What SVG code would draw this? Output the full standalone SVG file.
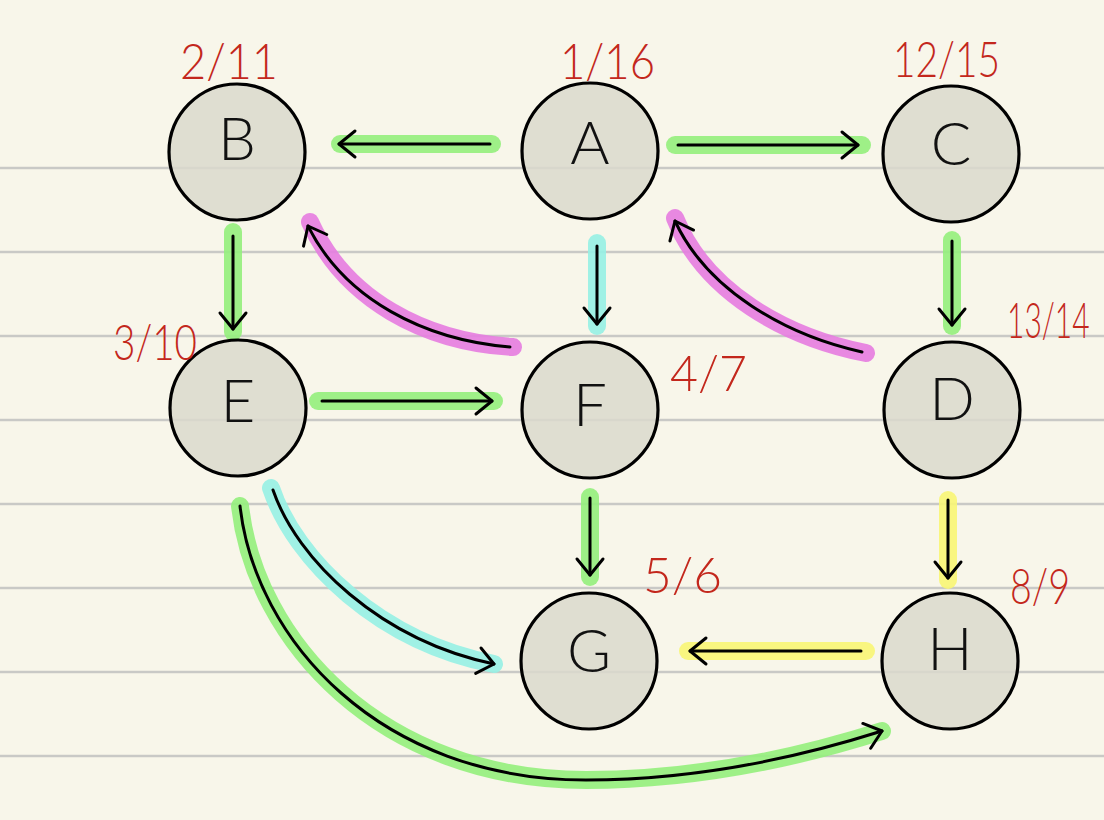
<svg xmlns="http://www.w3.org/2000/svg" width="1104" height="820" viewBox="0 0 1104 820">
<style>
.rule{stroke:#c9c9c6;stroke-width:2.5}
.node circle{fill:#dbd9cc;fill-opacity:0.85;stroke:#000;stroke-width:3.2}
.node text{font-family:Lato,'Open Sans','DejaVu Sans',sans-serif;font-weight:300;font-size:60px;fill:#111;text-anchor:middle}
.lbl{font-family:Lato,'Open Sans','DejaVu Sans',sans-serif;font-weight:300;font-size:50px;fill:#c3271c}
.hl{fill:none;stroke-width:18;stroke-linecap:round;stroke-opacity:0.9}
.g{stroke:#93f07c}
.c{stroke:#96f1e4}
.m{stroke:#e57ce0}
.y{stroke:#f8f674}
.ln{fill:none;stroke:#000;stroke-width:3;stroke-linecap:round;marker-end:url(#ah)}
</style>
<defs>
<marker id="ah" markerUnits="userSpaceOnUse" markerWidth="40" markerHeight="40" viewBox="-20 -20 40 40" refX="0" refY="0" orient="auto">
<path d="M-16,-13 L0,0 L-16,13" fill="none" stroke="#000" stroke-width="3" stroke-linecap="round" stroke-linejoin="round"/>
</marker>
</defs>
<rect width="1104" height="820" fill="#f8f6ea"/>
<g id="rules">
<line class="rule" x1="0" y1="168" x2="1104" y2="168"/>
<line class="rule" x1="0" y1="252" x2="1104" y2="252"/>
<line class="rule" x1="0" y1="336" x2="1104" y2="336"/>
<line class="rule" x1="0" y1="420" x2="1104" y2="420"/>
<line class="rule" x1="0" y1="504" x2="1104" y2="504"/>
<line class="rule" x1="0" y1="588" x2="1104" y2="588"/>
<line class="rule" x1="0" y1="672" x2="1104" y2="672"/>
<line class="rule" x1="0" y1="756" x2="1104" y2="756"/>
</g>
<g id="connectors">
<path class="hl g" d="M492,144 L340,144"/>
<path class="ln" d="M490,144 L339,144"/>
<path class="hl g" d="M675,145 L862,145"/>
<path class="ln" d="M678,145 L858,145"/>
<path class="hl g" d="M233,232 L233,332"/>
<path class="ln" d="M233,236 L233,329"/>
<path class="hl c" d="M597,243 L597,326"/>
<path class="ln" d="M597,246 L597,324"/>
<path class="hl g" d="M952,240 L952,326"/>
<path class="ln" d="M952,241 L952,325"/>
<path class="hl m" d="M513,347 C425,342 345,300 310,222"/>
<path class="ln" d="M510,347 C425,340 345,300 308,226"/>
<path class="hl m" d="M866,353 C785,337 705,292 675,218"/>
<path class="ln" d="M862,352 C785,335 707,290 675,221"/>
<path class="hl g" d="M318,401 L494,401"/>
<path class="ln" d="M322,401 L492,401"/>
<path class="hl g" d="M590,497 L590,577"/>
<path class="ln" d="M590,498 L590,575"/>
<path class="hl y" d="M948,500 L948,580"/>
<path class="ln" d="M948,500 L948,578"/>
<path class="hl y" d="M866,651 L688,651"/>
<path class="ln" d="M861,651 L690,651"/>
<path class="hl c" d="M271,488 C295,560 380,642 494,664"/>
<path class="ln" d="M273,490 C297,560 380,640 494,664"/>
<path class="hl g" d="M240,506 C255,640 380,780 586,780 C700,780 800,757 882,731"/>
<path class="ln" d="M240,506 C255,640 380,780 586,780 C700,780 800,757 882,731"/>
</g>
<g id="node-A" class="node"><circle cx="590" cy="151" r="68"/><text x="590" y="164">A</text></g>
<g id="node-B" class="node"><circle cx="237" cy="152" r="68"/><text x="237" y="160">B</text></g>
<g id="node-C" class="node"><circle cx="951" cy="154" r="68"/><text x="951" y="165">C</text></g>
<g id="node-E" class="node"><circle cx="238" cy="408" r="68"/><text x="238" y="422">E</text></g>
<g id="node-F" class="node"><circle cx="590" cy="410" r="68"/><text x="590" y="426">F</text></g>
<g id="node-D" class="node"><circle cx="952" cy="410" r="68"/><text x="952" y="420">D</text></g>
<g id="node-G" class="node"><circle cx="589" cy="661" r="68"/><text x="589" y="672">G</text></g>
<g id="node-H" class="node"><circle cx="950" cy="661" r="68"/><text x="950" y="670">H</text></g>
<g id="labels">
<text class="lbl" x="180" y="79" textLength="98" lengthAdjust="spacingAndGlyphs">2/11</text>
<text class="lbl" x="560" y="79" textLength="95" lengthAdjust="spacingAndGlyphs">1/16</text>
<text class="lbl" x="893" y="77" textLength="107" lengthAdjust="spacingAndGlyphs">12/15</text>
<text class="lbl" x="113" y="360" textLength="84" lengthAdjust="spacingAndGlyphs">3/10</text>
<text class="lbl" x="670" y="391" textLength="77" lengthAdjust="spacingAndGlyphs">4/7</text>
<text class="lbl" transform="translate(1007,338) scale(0.6,1)">13/14</text>
<text class="lbl" x="643" y="593" textLength="79" lengthAdjust="spacingAndGlyphs">5/6</text>
<text class="lbl" x="1010" y="604" textLength="60" lengthAdjust="spacingAndGlyphs">8/9</text>
</g>
</svg>
